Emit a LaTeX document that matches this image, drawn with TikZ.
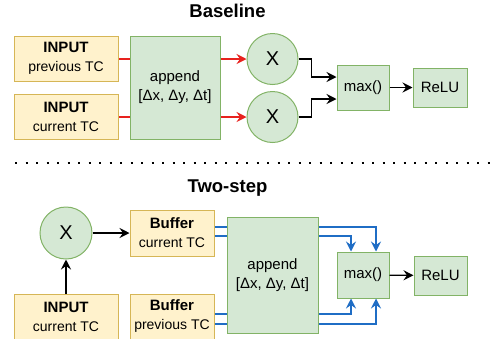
\documentclass[tikz,border=0pt]{standalone}
\usepackage{fontspec}
\setmainfont{Liberation Sans}
\usetikzlibrary{arrows.meta,backgrounds,calc}
\definecolor{yfill}{HTML}{FFF2CC}
\definecolor{ydraw}{HTML}{D6B656}
\definecolor{gfill}{HTML}{D5E8D4}
\definecolor{gdraw}{HTML}{82B366}
\definecolor{myred}{HTML}{E8221E}
\definecolor{myblue}{HTML}{1F6DC5}
\begin{document}
\begin{tikzpicture}[x=1pt,y=-1pt,
 ybox/.style={draw=ydraw,fill=yfill,line width=1pt,rectangle,inner sep=0pt,align=center,font=\fontsize{14}{19}\selectfont},
 gbox/.style={draw=gdraw,fill=gfill,line width=1pt,rectangle,inner sep=0pt,align=center,font=\fontsize{15}{19}\selectfont},
 gcirc/.style={draw=gdraw,fill=gfill,line width=1pt,circle,inner sep=0pt,minimum size=51pt,font=\fontsize{20}{24}\selectfont},
 ttl/.style={font=\fontsize{18.5}{22}\selectfont\bfseries,anchor=base},
 tipk/.style={-{Stealth[length=10pt,width=10pt,inset=3.5pt]}},
 blk/.style={tipk,line width=1.3pt,black},
 redc/.style={tipk,line width=1.1pt,myred},
 bluec/.style={tipk,line width=1.2pt,myblue},
]
\useasboundingbox (0,0) rectangle (493,338);
\clip (0,0) rectangle (493,338);

% ---------- Baseline ----------
\node[ttl] (t1) at (227.5,17.5) {Baseline};
\node[ybox,minimum width=104pt,minimum height=45pt] (in1) at (66,58.5) {{\fontsize{15}{19}\selectfont\bfseries INPUT}\\previous TC};
\node[ybox,minimum width=104pt,minimum height=45pt] (in2) at (66,116.5) {{\fontsize{15}{19}\selectfont\bfseries INPUT}\\current TC};
\node[gbox,minimum width=90pt,minimum height=103pt] (app1) at (175,87.5) {append\\{[}Δx, Δy, Δt{]}};
\node[gcirc] (c1) at (272.5,59) {X};
\node[gcirc] (c2) at (272.5,117) {X};
\node[gbox,minimum width=52pt,minimum height=45pt] (max1) at (363,87.5) {max()};
\node[gbox,minimum width=54pt,minimum height=39pt] (relu1) at (440,87.5) {ReLU};

\begin{pgfonlayer}{background}
\draw[redc] (in1.east |- c1.west) -- (c1.west);
\draw[redc] (in2.east |- c2.west) -- (c2.west);
\end{pgfonlayer}
\draw[blk] (c1.east) -- ++(13,0) |- ([yshift=10.5pt]max1.west);
\draw[blk] (c2.east) -- ++(13,0) |- ([yshift=-11.5pt]max1.west);
\draw[blk] (max1) -- (relu1);

% separator
\draw[line width=2pt, dash pattern=on 2pt off 8.5pt] (15,163) -- (492,163);

% ---------- Two-step ----------
\node[ttl] (t2) at (227.5,192) {Two-step};
\node[gcirc,minimum size=52pt] (cx) at (66,233) {X};
\node[ybox,minimum width=84pt,minimum height=46pt] (buf1) at (172,233) {{\fontsize{15}{19}\selectfont\bfseries Buffer}\\current TC};
\node[ybox,minimum width=104pt,minimum height=45pt] (in3) at (66,316.5) {{\fontsize{15}{19}\selectfont\bfseries INPUT}\\current TC};
\node[ybox,minimum width=84pt,minimum height=45pt] (buf2) at (172,316.5) {{\fontsize{15}{19}\selectfont\bfseries Buffer}\\previous TC};
\node[gbox,minimum width=91pt,minimum height=116pt] (app2) at (272.5,275) {append\\{[}Δx, Δy, Δt{]}};
\node[gbox,minimum width=52pt,minimum height=46pt] (max2) at (363,275) {max()};
\node[gbox,minimum width=53pt,minimum height=39pt] (relu2) at (440.5,275.5) {ReLU};

\draw[blk] (in3) -- (cx);
\draw[blk] (cx) -- (buf1);
\draw[blk] (max2) -- (relu2);
\begin{pgfonlayer}{background}
\draw[bluec] ([yshift=6pt]buf1.east) -| ([xshift=13pt]max2.north);
\draw[bluec] ([yshift=-3pt]buf1.east) -| ([xshift=-12pt]max2.north);
\draw[bluec] ([yshift=2.5pt]buf2.east) -| ([xshift=-12pt]max2.south);
\draw[bluec] ([yshift=-7.5pt]buf2.east) -| ([xshift=13pt]max2.south);
\end{pgfonlayer}
\end{tikzpicture}
\end{document}
